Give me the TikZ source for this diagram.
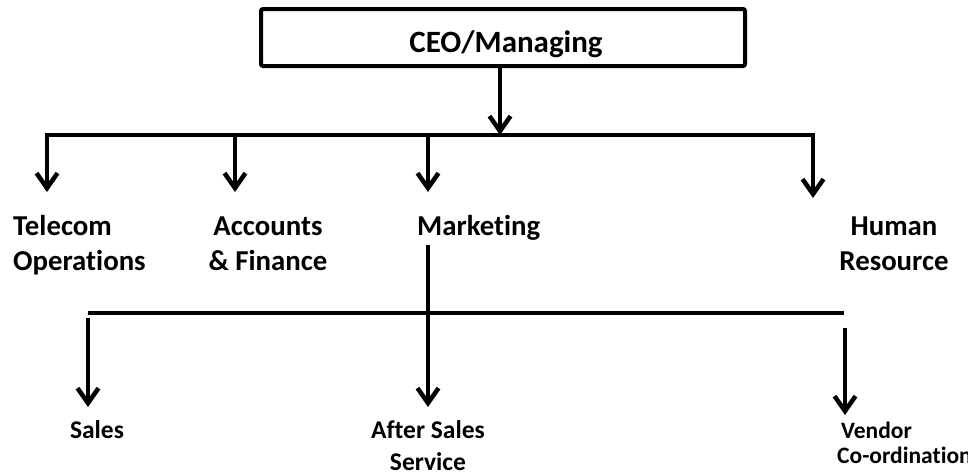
\documentclass[tikz,border=0pt]{standalone}
\usepackage{fontspec}
\setmainfont{Carlito}[Ligatures=NoCommon]
\usetikzlibrary{arrows.meta}
\begin{document}
\begin{tikzpicture}[x=1pt,y=-1pt,
  conn/.style={line width=4pt, line join=miter, line cap=rect},
  arr/.style={conn, line cap=butt, -{Straight Barb[length=15pt,width=21pt,line width=4.5pt]}},
  bigtxt/.style={inner sep=0pt, font=\fontsize{28.8}{35}\selectfont\bfseries},
  smalltxt/.style={inner sep=0pt, font=\fontsize{25.5}{32}\selectfont\bfseries},
  boxstyle/.style={draw, line width=4pt, rounded corners=2pt, minimum width=484pt, minimum height=57pt, inner sep=0pt}
]
\useasboundingbox (0,0) rectangle (968,472);
% top box
\node[boxstyle] (ceo) at (503,37.5) {};
\node[inner sep=0pt, anchor=base, font=\fontsize{31}{36}\selectfont\bfseries] (ceolabel) at (506,52) {CEO/Managing};
% coordinates
\coordinate (hub) at (500,135);
\coordinate (hubtop) at (500,67);
\coordinate (barL) at (47,135);
\coordinate (barR) at (813,135);
\coordinate (d2) at (235,135);
\coordinate (d3) at (428,135);
\coordinate (t1) at (47,192);
\coordinate (t2) at (235,192);
\coordinate (t3) at (428,192);
\coordinate (t4) at (813,198);
% department labels
\node[bigtxt, anchor=north west, align=left] (tel) at (13,210.5) {\strut Telecom\\Operations};
\node[bigtxt, anchor=north, align=center] (acc) at (268,210.5) {\strut Accounts\\\& Finance};
\node[bigtxt, anchor=north west] (mkt) at (417,210.5) {\strut Marketing};
\node[bigtxt, anchor=north, align=center] (hr) at (894,210.5) {\strut Human\\Resource};
% connectors level 1
\draw[arr] (ceo.south -| hubtop) -- (hub);
\draw[arr] (hub) -- (barL) -- (t1);
\draw[arr] (hub) -- (barR) -- (t4);
\draw[arr] (d2) -- (t2);
\draw[arr] (d3) -- (t3);
% level 2
\coordinate (mtop) at (428,245);
\coordinate (lowL) at (88,313);
\coordinate (lowR) at (844,313);
\coordinate (s0) at (88,318);
\coordinate (s1) at (88,407);
\coordinate (a1) at (428,407);
\coordinate (v0) at (845,328);
\coordinate (v1) at (845,415);
\draw[conn, line cap=butt] (lowL) -- (lowR);
\draw[arr] (mtop) -- (a1);
\draw[arr] (s0) -- (s1);
\draw[arr] (v0) -- (v1);
\node[smalltxt, anchor=base] (sales) at (97,438) {Sales};
\node[smalltxt, anchor=north, align=center] (after) at (428,415.6) {\strut After Sales\\Service};
\node[inner sep=0pt, font=\fontsize{23.5}{25}\selectfont\bfseries, anchor=north west, align=left] (vendor) at (837,420.5) {\strut\hspace{4pt}Vendor\\Co-ordination};
\end{tikzpicture}
\end{document}
